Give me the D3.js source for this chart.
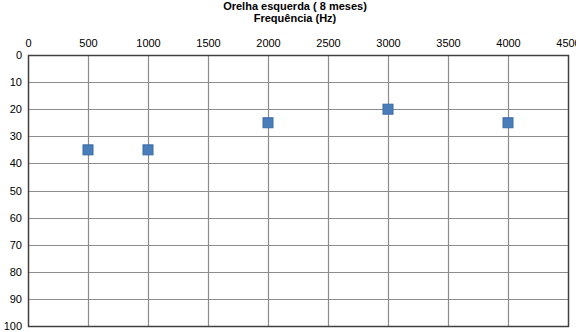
<!DOCTYPE html>
<html>
<head>
<meta charset="utf-8">
<script src="https://cdn.jsdelivr.net/npm/d3@7/dist/d3.min.js"></script>
<style>
  body { margin: 0; background: #fff; }
  svg { display: block; font-family: "Liberation Sans", Arial, sans-serif; }
</style>
</head>
<body>
<div id="chart"></div>
<script>
var titleLines = ["Orelha esquerda ( 8 meses)", "Frequência (Hz)"];
var freqs = [500, 1000, 2000, 3000, 4000];
var levels = [35, 35, 25, 20, 25];
var xTicks = [0, 500, 1000, 1500, 2000, 2500, 3000, 3500, 4000, 4500];
var yTicks = [0, 10, 20, 30, 40, 50, 60, 70, 80, 90, 100];

var width = 576, height = 332;
var margin = {top: 55, right: 8, bottom: 6, left: 28};

var svg = d3.select("#chart").append("svg")
  .attr("width", width)
  .attr("height", height);

var x = d3.scaleLinear().domain([0, 4500]).range([margin.left, 568]);
var y = d3.scaleLinear().domain([0, 100]).range([margin.top, 326]);

// grid
svg.append("g").selectAll("line.v")
  .data(xTicks.slice(1, -1))
  .enter().append("line")
    .attr("x1", function(d){ return Math.round(x(d)) + 0.5; })
    .attr("x2", function(d){ return Math.round(x(d)) + 0.5; })
    .attr("y1", y(0)).attr("y2", y(100))
    .attr("stroke", "#8c8c8c").attr("stroke-width", 1.2);

svg.append("g").selectAll("line.h")
  .data(yTicks.slice(1, -1))
  .enter().append("line")
    .attr("y1", function(d){ return Math.round(y(d)) + 0.5; })
    .attr("y2", function(d){ return Math.round(y(d)) + 0.5; })
    .attr("x1", x(0)).attr("x2", x(4500))
    .attr("stroke", "#8c8c8c").attr("stroke-width", 1.2);

// frame
svg.append("rect")
  .attr("x", x(0) + 0.5).attr("y", y(0) + 0.5)
  .attr("width", x(4500) - x(0)).attr("height", y(100) - y(0))
  .attr("fill", "none").attr("stroke", "#404040").attr("stroke-width", 1.5);

// axes (top and left)
var xAxis = d3.axisTop(x).tickValues(xTicks).tickSize(0).tickPadding(0).tickFormat(d3.format("d"));
svg.append("g")
  .attr("transform", "translate(0,47)")
  .call(xAxis)
  .call(function(g){ g.select(".domain").remove(); })
  .selectAll("text")
    .attr("font-size", 11).attr("fill", "#000")
    .attr("font-family", "Liberation Sans, Arial, sans-serif");

var yAxis = d3.axisLeft(y).tickValues(yTicks).tickSize(0).tickPadding(0);
svg.append("g")
  .attr("transform", "translate(22,0)")
  .call(yAxis)
  .call(function(g){ g.select(".domain").remove(); })
  .selectAll("text")
    .attr("font-size", 11).attr("fill", "#000")
    .attr("font-family", "Liberation Sans, Arial, sans-serif");

// title
svg.append("g").selectAll("text")
  .data(titleLines)
  .enter().append("text")
    .attr("x", 295)
    .attr("y", function(d, i){ return 10 + i * 12; })
    .attr("text-anchor", "middle")
    .attr("font-size", 11)
    .attr("font-weight", "bold")
    .text(function(d){ return d; });

// points
svg.append("g").selectAll("rect.pt")
  .data(freqs)
  .enter().append("rect")
    .attr("x", function(d){ return x(d) - 5; })
    .attr("y", function(d, i){ return y(levels[i]) - 5; })
    .attr("width", 10).attr("height", 10)
    .attr("fill", "#4a7ebb")
    .attr("stroke", "#3b6aa3").attr("stroke-width", 1);
</script>
</body>
</html>
